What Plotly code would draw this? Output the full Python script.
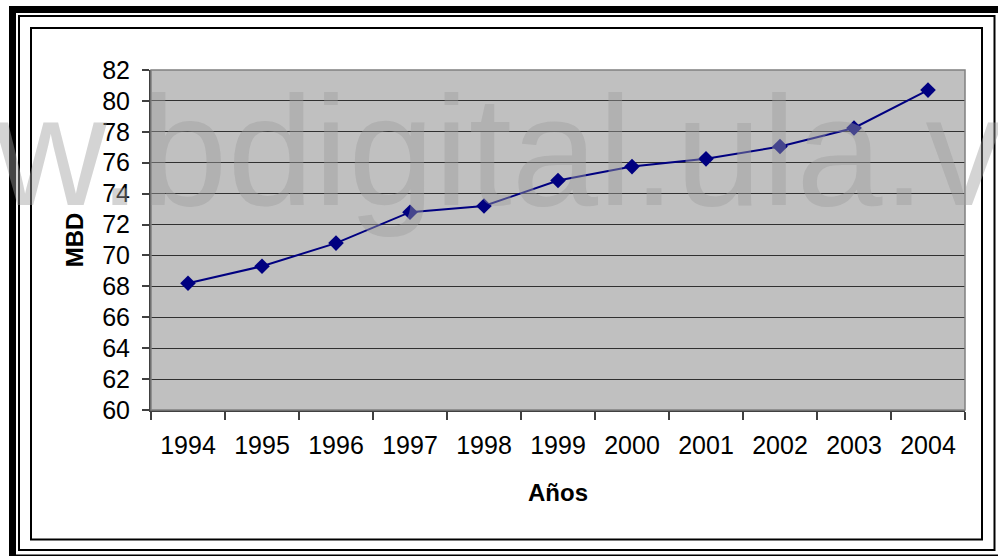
import plotly.graph_objects as go

years = ["1994", "1995", "1996", "1997", "1998", "1999", "2000", "2001", "2002", "2003", "2004"]
mbd = [68.2, 69.3, 70.8, 72.8, 73.2, 74.85, 75.75, 76.25, 77.05, 78.25, 80.7]
y_ticks = [60, 62, 64, 66, 68, 70, 72, 74, 76, 78, 80, 82]

W_FIG, H_FIG = 998, 556
L, R, T, B = 151, 33, 70, 146
PW, PH = W_FIG - L - R, H_FIG - T - B


def px(x):
    return (x - L) / PW


def py(y):
    return 1 - (y - T) / PH


fig = go.Figure()
fig.add_trace(go.Scatter(
    x=years, y=mbd, mode="lines+markers",
    line=dict(color="#000080", width=2),
    marker=dict(symbol="diamond", size=12, color="#000080"),
    showlegend=False, cliponaxis=False,
))

font_main = "Liberation Sans, Arial, sans-serif"

shapes = [
    # outer thick frame
    dict(type="rect", xref="paper", yref="paper", x0=px(12.5), y0=py(9.5), x1=px(1001.5), y1=py(558),
         line=dict(color="black", width=7), fillcolor="rgba(0,0,0,0)"),
    # thin frame
    dict(type="rect", xref="paper", yref="paper", x0=px(19), y0=py(16), x1=px(994.5), y1=py(550),
         line=dict(color="black", width=2), fillcolor="rgba(0,0,0,0)"),
    # chart area border
    dict(type="rect", xref="paper", yref="paper", x0=px(31), y0=py(28), x1=px(982), y1=py(539.5),
         line=dict(color="black", width=2), fillcolor="rgba(0,0,0,0)"),
    # plot area border (top/right gray)
    dict(type="rect", xref="paper", yref="paper", x0=0, y0=0, x1=1, y1=1,
         line=dict(color="#808080", width=1.5), fillcolor="rgba(0,0,0,0)", layer="above"),
]

fig.update_layout(
    width=W_FIG, height=H_FIG,
    margin=dict(l=L, r=R, t=T, b=B, pad=0),
    paper_bgcolor="white",
    plot_bgcolor="#C0C0C0",
    font=dict(family=font_main, color="black", size=25),
    shapes=shapes,
    xaxis=dict(
        type="category", tickson="boundaries",
        ticks="outside", ticklen=8, tickcolor="#404040", tickwidth=1.5,
        showline=True, linecolor="#404040", linewidth=2,
        showgrid=False, zeroline=False,
        tickfont=dict(size=25, family=font_main),
        ticklabelstandoff=12,
        title=dict(text="<b>Años</b>", font=dict(size=24, family=font_main), standoff=26),
        range=[-0.5, len(years) - 0.5],
    ),
    yaxis=dict(
        range=[60, 82], tickvals=y_ticks, ticktext=[str(v) for v in y_ticks],
        ticks="outside", ticklen=7, tickcolor="#404040", tickwidth=1.5,
        showline=True, linecolor="#404040", linewidth=2,
        showgrid=True, gridcolor="#303030", gridwidth=1,
        zeroline=False,
        tickfont=dict(size=25, family=font_main),
        ticklabelstandoff=7,
        title=dict(text="<b>MBD</b>", font=dict(size=24, family=font_main), standoff=12),
    ),
    annotations=[
        dict(text="www.bdigital.ula.ve", xref="paper", yref="paper",
             x=px(429), y=py(151), xanchor="center", yanchor="middle",
             showarrow=False,
             font=dict(size=155, family=font_main, color="rgba(156,156,156,0.44)")),
    ],
)

fig.write_html(
    "out.html",
    config={"displayModeBar": False},
    post_script="document.body.style.margin='0';document.body.style.overflow='hidden';",
)
